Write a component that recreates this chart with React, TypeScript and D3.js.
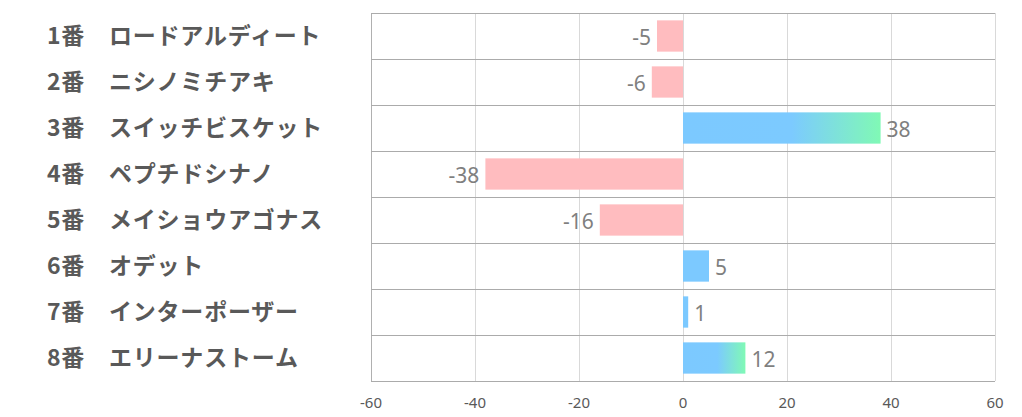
import React from "react";
import * as d3 from "d3";

const horses = ["ロードアルディート", "ニシノミチアキ", "スイッチビスケット", "ペプチドシナノ", "メイショウアゴナス", "オデット", "インターポーザー", "エリーナストーム"];
const numbers = ["1番", "2番", "3番", "4番", "5番", "6番", "7番", "8番"];
const values = [-5, -6, 38, -38, -16, 5, 1, 12];
const ticks = [-60, -40, -20, 0, 20, 40, 60];

const W = 1022;
const H = 417;

export default function App() {
  const x = d3.scaleLinear().domain([-60, 60]).range([371, 995]);
  const y = d3.scaleBand<number>().domain(d3.range(values.length)).range([13, 381]).padding(0);
  const bh = y.bandwidth() * 0.68;
  const font = "'Noto Sans CJK JP', 'Noto Sans', sans-serif";
  const numFont = "'Noto Sans', 'Open Sans', sans-serif";
  return (
    <svg width={W} height={H} style={{ position: "absolute", left: 0, top: 0, display: "block", background: "#fff" }}>
      <defs>
        <linearGradient id="posGrad" x1="0" x2="1" y1="0" y2="0">
          <stop offset="0" stopColor="#7cc9ff" />
          <stop offset="0.55" stopColor="#7ccaff" />
          <stop offset="1" stopColor="#80f9b5" />
        </linearGradient>
      </defs>
      {ticks.map((t) => (
        <line key={"v" + t} x1={x(t)} x2={x(t)} y1={13} y2={381} stroke={t === -60 ? "#b0b0b0" : "#d9d9d9"} strokeWidth={1} shapeRendering="crispEdges" />
      ))}
      {d3.range(values.length + 1).map((i) => {
        const yy = i < values.length ? (y(i) as number) : 381;
        return <line key={"h" + i} x1={371} x2={995} y1={yy} y2={yy} stroke="#ababab" strokeWidth={1} shapeRendering="crispEdges" />;
      })}
      {values.map((v, i) => {
        const cy = (y(i) as number) + y.bandwidth() / 2;
        const x0 = x(Math.min(0, v));
        const x1 = x(Math.max(0, v));
        const fill = v < 0 ? "#ffbcbf" : v >= 10 ? "url(#posGrad)" : "#7cc9ff";
        return (
          <g key={"b" + i}>
            <rect x={x0} y={cy - bh / 2} width={x1 - x0} height={bh} fill={fill} />
            <text
              x={v < 0 ? x0 - 6 : x1 + 6}
              y={cy + 1}
              dy="0.36em"
              textAnchor={v < 0 ? "end" : "start"}
              fontFamily={numFont}
              fontSize={21}
              fill="#7f7f7f"
            >
              {v}
            </text>
          </g>
        );
      })}
      {horses.map((h, i) => {
        const cy = (y(i) as number) + y.bandwidth() / 2;
        return (
          <text key={"l" + i} x={47} y={cy} dy="0.36em" fontFamily={font} fontSize={23} letterSpacing={0.8} fontWeight={700} fill="#595959">
            {numbers[i] + "\u3000" + h}
          </text>
        );
      })}
      {ticks.map((t) => (
        <text key={"t" + t} x={x(t)} y={403} dy="0.36em" textAnchor="middle" fontFamily={numFont} fontSize={15} fill="#595959">
          {t}
        </text>
      ))}
    </svg>
  );
}
